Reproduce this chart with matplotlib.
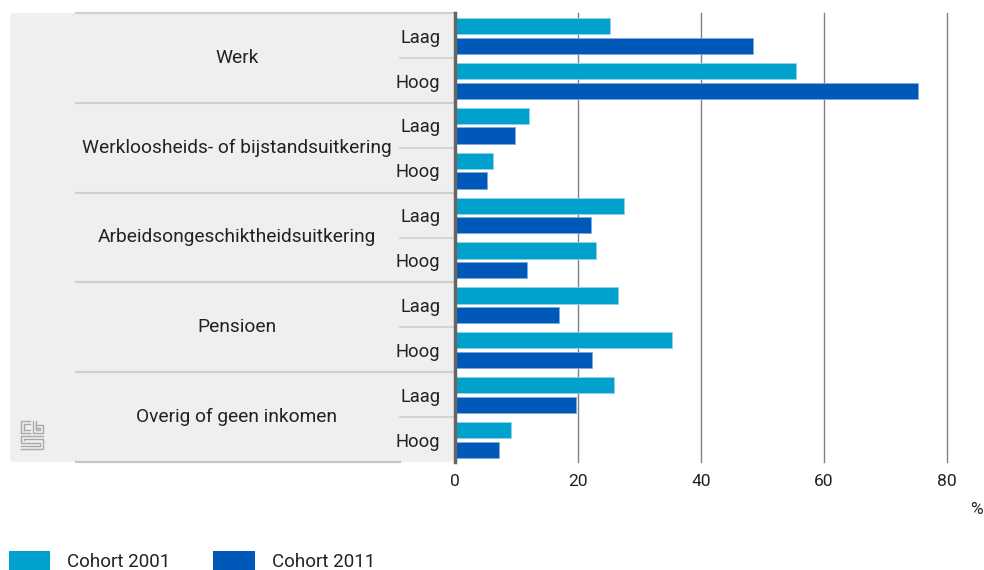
import matplotlib
matplotlib.use('Agg')
import matplotlib.pyplot as plt
import matplotlib.transforms as mtransforms
from matplotlib.patches import FancyBboxPatch, Patch
from matplotlib.lines import Line2D

# data
groups = ['Werk', 'Werkloosheids- of bijstandsuitkering', 'Arbeidsongeschiktheidsuitkering',
          'Pensioen', 'Overig of geen inkomen']
levels = ['Laag', 'Hoog']
cohort_2001 = [25.2, 55.5, 12.0, 6.1, 27.5, 23.0, 26.5, 35.3, 25.8, 9.1]
cohort_2011 = [48.5, 75.3, 9.7, 5.2, 22.1, 11.7, 16.9, 22.3, 19.7, 7.2]
series_labels = ['Cohort 2001', 'Cohort 2011']
xticks = [0, 20, 40, 60, 80]

c2001 = '#00A1CD'
c2011 = '#0058B8'
txt = '#222222'

plt.rcParams['font.family'] = ['Roboto', 'DejaVu Sans']

W, H = 984, 570
fig = plt.figure(figsize=(W / 100, H / 100), dpi=100)
ax = fig.add_axes([455 / W, 1 - 462 / H, (947 - 455) / W, (462 - 13) / H])

rows = list(range(len(cohort_2001)))
ax.barh([r + 0.29 for r in rows], cohort_2001, height=0.36, color=c2001,
        edgecolor='#8fd3ea', linewidth=0.6, zorder=3)
ax.barh([r + 0.73 for r in rows], cohort_2011, height=0.36, color=c2011,
        edgecolor='#7fa8dc', linewidth=0.6, zorder=3)

ax.set_xlim(0, 80)
ax.set_ylim(len(rows), 0)
ax.set_xticks(xticks)
ax.set_yticks([])
ax.xaxis.grid(True, color='#808080', linewidth=1)
for gl in ax.get_xgridlines():
    gl.set_clip_on(False)
ax.set_axisbelow(True)
ax.tick_params(axis='x', length=0, pad=9, labelsize=12.5, labelcolor=txt)
for s in ['top', 'right', 'bottom']:
    ax.spines[s].set_visible(False)
ax.spines['left'].set_color('#666666')
ax.spines['left'].set_linewidth(2.5)
ax.spines['left'].set_zorder(5)
ax.patch.set_alpha(0)

# grey label panel, behind everything
panel = FancyBboxPatch((10 / W, 1 - 462 / H), (455 - 10) / W, (462 - 13) / H,
                       boxstyle='round,pad=0,rounding_size=0.006',
                       transform=fig.transFigure, facecolor='#EFEFEF',
                       edgecolor='none', zorder=-5)
fig.patches.append(panel)

tr = mtransforms.blended_transform_factory(fig.transFigure, ax.transData)
for g, name in enumerate(groups):
    ax.text(237 / W, 2 * g + 1, name, transform=tr, ha='center', va='center',
            fontsize=13.8, color=txt)
    for j, lev in enumerate(levels):
        ax.text(440 / W, 2 * g + j + 0.55, lev, transform=tr, ha='right',
                va='center', fontsize=13.2, color=txt)
    # line between Laag and Hoog
    ax.add_line(Line2D([400 / W, 455 / W], [2 * g + 1, 2 * g + 1], transform=tr,
                       color='#CFCFCF', linewidth=1.2, clip_on=False))
for b in range(len(groups) + 1):
    x1 = 455 if b < len(groups) else 400
    col = '#CFCFCF' if b < len(groups) else '#C4C4C4'
    ax.add_line(Line2D([76 / W, x1 / W], [2 * b, 2 * b], transform=tr,
                       color=col, linewidth=1.5, clip_on=False))

# small cbs logo
logo = [
    [(21, 433), (21, 421), (30, 421)],
    [(21, 433), (30, 433)],
    [(24, 430), (24, 424), (30, 424)],
    [(24, 430), (30, 430)],
    [(33, 421), (33, 433), (43, 433), (43, 425), (36, 425)],
    [(36, 421), (36, 430), (40, 430), (40, 428), (36, 428)],
    [(43, 436), (21, 436), (21, 443), (40, 443), (40, 446), (21, 446)],
    [(43, 439), (24, 439), (24, 440)],
    [(43, 440), (43, 449), (21, 449)],
]
for seg in logo:
    xs = [p[0] / W for p in seg]
    ys = [1 - p[1] / H for p in seg]
    fig.add_artist(Line2D(xs, ys, color='#A8A8A8', linewidth=1.0))

fig.text(983 / W, 1 - 510 / H, '%', ha='right', va='center', fontsize=12.5, color=txt)

handles = [Patch(facecolor=c2001), Patch(facecolor=c2011)]
fig.legend(handles, series_labels, loc='center left', bbox_to_anchor=(-8 / W, 1 - 561 / H),
           ncol=2, frameon=False, fontsize=13.5, handlelength=2.2, handleheight=1.15,
           handletextpad=0.9, columnspacing=2.3, labelcolor=txt)

fig.savefig('out.png', dpi=100)
